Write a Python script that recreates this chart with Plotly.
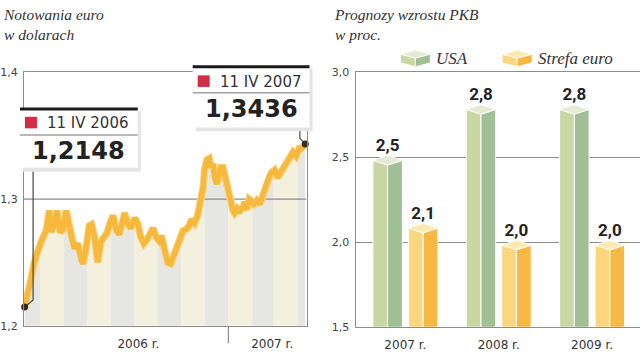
import plotly.graph_objects as go
import numpy as np
import pandas as pd

W, H = 640, 355

# ---------------- data: EUR/USD ----------------
dates = [
    "2006-04-11", "2006-04-15", "2006-04-19", "2006-04-23", "2006-04-27",
    "2006-05-01", "2006-05-05", "2006-05-09", "2006-05-13", "2006-05-16", "2006-05-20", "2006-05-23", "2006-05-27", "2006-05-31",
    "2006-06-04", "2006-06-08", "2006-06-11", "2006-06-15", "2006-06-19", "2006-06-23", "2006-06-26", "2006-06-30",
    "2006-07-04", "2006-07-07", "2006-07-11", "2006-07-15", "2006-07-19", "2006-07-23", "2006-07-27", "2006-07-31",
    "2006-08-04", "2006-08-08", "2006-08-12", "2006-08-15", "2006-08-19", "2006-08-23", "2006-08-27",
    "2006-09-01", "2006-09-05", "2006-09-09", "2006-09-13", "2006-09-17", "2006-09-21", "2006-09-25", "2006-09-29",
    "2006-10-03", "2006-10-06", "2006-10-10", "2006-10-14", "2006-10-18", "2006-10-22", "2006-10-26", "2006-10-30",
    "2006-11-03", "2006-11-07", "2006-11-11", "2006-11-14", "2006-11-18", "2006-11-22", "2006-11-26", "2006-11-29",
    "2006-12-01", "2006-12-04", "2006-12-07", "2006-12-09", "2006-12-12", "2006-12-14", "2006-12-17", "2006-12-20",
    "2006-12-22", "2006-12-25", "2006-12-27", "2006-12-30",
    "2007-01-02", "2007-01-04", "2007-01-07", "2007-01-09", "2007-01-12", "2007-01-15", "2007-01-17", "2007-01-20",
    "2007-01-22", "2007-01-25", "2007-01-28", "2007-01-30",
    "2007-02-03", "2007-02-07", "2007-02-11", "2007-02-15", "2007-02-19", "2007-02-23", "2007-02-26",
    "2007-03-02", "2007-03-06", "2007-03-10", "2007-03-14", "2007-03-18", "2007-03-22", "2007-03-26", "2007-03-30",
    "2007-04-03", "2007-04-06", "2007-04-11",
]
eur_usd = [
    1.2148, 1.224, 1.236, 1.249, 1.258,
    1.264, 1.270, 1.275, 1.291, 1.274, 1.281, 1.291, 1.274, 1.276,
    1.291, 1.277, 1.270, 1.261, 1.265, 1.253, 1.249, 1.262,
    1.279, 1.280, 1.270, 1.250, 1.266, 1.270, 1.273, 1.281,
    1.287, 1.276, 1.272, 1.279, 1.289, 1.281, 1.277,
    1.285, 1.281, 1.270, 1.265, 1.268, 1.273, 1.277, 1.270,
    1.267, 1.271, 1.258, 1.250, 1.249, 1.256, 1.262, 1.270,
    1.275, 1.276, 1.279, 1.284, 1.281, 1.287, 1.298, 1.309,
    1.323, 1.331, 1.332, 1.325, 1.328, 1.317, 1.312, 1.319,
    1.325, 1.325, 1.319, 1.314,
    1.304, 1.296, 1.291, 1.289, 1.292, 1.289, 1.294, 1.291,
    1.298, 1.292, 1.300, 1.299,
    1.296, 1.299, 1.296, 1.304, 1.312, 1.318, 1.321,
    1.323, 1.317, 1.321, 1.325, 1.329, 1.334, 1.337, 1.334,
    1.340, 1.340, 1.3436,
]
month_starts = ["2006-04-01", "2006-05-01", "2006-06-01", "2006-07-01", "2006-08-01",
                "2006-09-01", "2006-10-01", "2006-11-01", "2006-12-01", "2007-01-01",
                "2007-02-01", "2007-03-01", "2007-04-01", "2007-05-01"]
year_tick_dates = ["2006-09-06", "2007-02-27"]
year_tick_labels = ["2006 r.", "2007 r."]
left_yticks = [1.2, 1.3, 1.4]
first_label = ("11 IV 2006", "1,2148")
last_label = ("11 IV 2007", "1,3436")

# ---------------- data: GDP forecasts ----------------
years = ["2007 r.", "2008 r.", "2009 r."]
usa = [2.5, 2.8, 2.8]
euro = [2.1, 2.0, 2.0]
right_yticks = [1.5, 2.0, 2.5, 3.0]

# ---------------- helpers ----------------
def px(x):
    return x / W


def py(y):
    return 1 - y / H


SANS = "DejaVu Sans"
SERIF = "Liberation Serif"
AXIS = "#8c8c8c"
TXT = "#333333"

fig = go.Figure()

# ---- left chart: monthly striped fill under the line ----
t = pd.to_datetime(dates).astype("int64").to_numpy().astype(float)
v = np.array(eur_usd)
ms = pd.to_datetime(month_starts).astype("int64").to_numpy().astype(float)
stripe_cols = ["#e6e6e2", "#f3f1dd"]
for i in range(len(ms) - 1):
    s, e = max(ms[i], t[0]), min(ms[i + 1], t[-1])
    if e <= s:
        continue
    inside = t[(t > s) & (t < e)]
    sx = np.concatenate([[s], inside, [e]])
    sy = np.interp(sx, t, v)
    fig.add_trace(go.Scatter(
        x=pd.to_datetime(sx.astype("int64")), y=sy, mode="lines", fill="tozeroy",
        fillcolor=stripe_cols[i % 2], line=dict(width=0), hoverinfo="skip",
        showlegend=False, xaxis="x", yaxis="y"))

x_range = ["2006-04-10 03:00", "2007-04-12 15:00"]
# 1,3 reference line (above fill, below the curve)
fig.add_trace(go.Scatter(x=x_range, y=[1.3, 1.3], mode="lines",
                         line=dict(color=AXIS, width=1.2), hoverinfo="skip",
                         showlegend=False, xaxis="x", yaxis="y"))
# curve with light halo
fig.add_trace(go.Scatter(x=dates, y=eur_usd, mode="lines",
                         line=dict(color="#fbd58a", width=7.5), hoverinfo="skip",
                         showlegend=False, xaxis="x", yaxis="y"))
fig.add_trace(go.Scatter(x=dates, y=eur_usd, mode="lines",
                         line=dict(color="#f7b93c", width=5.5),
                         showlegend=False, xaxis="x", yaxis="y"))
# connectors
fig.add_trace(go.Scatter(x=[dates[0], "2006-04-22", "2006-04-22"],
                         y=[eur_usd[0], 1.2205, 1.33], mode="lines",
                         line=dict(color="#444444", width=1.2), hoverinfo="skip",
                         showlegend=False, xaxis="x", yaxis="y"))
fig.add_trace(go.Scatter(x=[dates[-1], "2007-04-04", "2007-04-04"],
                         y=[eur_usd[-1], 1.348, 1.36], mode="lines",
                         line=dict(color="#444444", width=1.2), hoverinfo="skip",
                         showlegend=False, xaxis="x", yaxis="y"))
fig.add_trace(go.Scatter(x=[dates[0], dates[-1]], y=[eur_usd[0], eur_usd[-1]],
                         mode="markers", marker=dict(size=7, color="#3b2b1e"),
                         cliponaxis=False, showlegend=False, xaxis="x", yaxis="y"))

# ---- right chart: pseudo-3D bars ----
dy_side, dy_back, dy_front = 0.018, 0.010, 0.046


def faces(centers, vals, off_l, off_m, off_r):
    lx, ly, rx, ry, cx, cy = [], [], [], [], [], []
    for c, val in zip(centers, vals):
        xl, xm, xr = c + off_l, c + off_m, c + off_r
        top = val - dy_side
        front = val - dy_front
        lx += [xl, xm, xm, xl, xl, None]
        ly += [top, front, 1.5 - 0.028, 1.5, top, None]
        rx += [xm, xr, xr, xm, xm, None]
        ry += [front, top, 1.5, 1.5 - 0.028, front, None]
        cx += [xl, xm, xr, xm, xl, None]
        cy += [top, val + dy_back, top, front, top, None]
    return (lx, ly), (rx, ry), (cx, cy)


cats = list(range(len(years)))
series = [
    (usa, -0.348, -0.19, -0.032, ["#c9d7a5", "#a0bf95", "#e4ebd2"]),
    (euro, 0.032, 0.19, 0.348, ["#fcd67c", "#f7b943", "#feeab0"]),
]
for vals, ol, om, orr, cols in series:
    (lx, ly), (rx, ry), (cx, cy) = faces(cats, vals, ol, om, orr)
    for (fx, fy), col in zip([(lx, ly), (rx, ry), (cx, cy)], cols):
        fig.add_trace(go.Scatter(x=fx, y=fy, mode="lines", fill="toself",
                                 fillcolor=col, line=dict(color="white", width=1),
                                 hoverinfo="skip", showlegend=False,
                                 xaxis="x2", yaxis="y2"))
    fig.add_trace(go.Scatter(
        x=[c + om for c in cats], y=[val + dy_back for val in vals], mode="text",
        text=["<b>" + f"{val:.1f}".replace(".", ",") + "</b>" for val in vals],
        textposition="top center", cliponaxis=False,
        textfont=dict(family="Roboto", size=17, color="#222222"),
        showlegend=False, xaxis="x2", yaxis="y2"))

# ---------------- shapes (annotation boxes, legend icons) ----------------
shapes = []


def rect(x0, y0, x1, y1, col):
    shapes.append(dict(type="rect", xref="paper", yref="paper", x0=px(x0), x1=px(x1),
                       y0=py(y1), y1=py(y0), fillcolor=col, line=dict(width=0),
                       layer="above"))


def hline(x0, x1, y, col, w):
    shapes.append(dict(type="line", xref="paper", yref="paper", x0=px(x0), x1=px(x1),
                       y0=py(y), y1=py(y), line=dict(color=col, width=w), layer="above"))


def poly(pts, col):
    path = "M " + " L ".join(f"{px(a):.5f},{py(b):.5f}" for a, b in pts) + " Z"
    shapes.append(dict(type="path", xref="paper", yref="paper", path=path,
                       fillcolor=col, line=dict(color="white", width=0.8), layer="above"))


for (bx0, by0, bx1, by1, div) in [(19, 106, 137, 168, 134), (192, 62, 309, 126, 90)]:
    rect(bx0 + 3, by0 + 3, bx1 + 3, by1 + 4, "#e4e4e4")
    rect(bx0, by0, bx1, by1, "white")
    hline(bx0, bx1, by0 + 1, "#1a1a1a", 3)
    hline(bx0, bx1, div, "#a0a0a0", 1.5)
rect(24, 115, 36, 127, "#d52b46")
rect(197, 72, 209, 84, "#d52b46")

# separator tick between years
shapes.append(dict(type="line", xref="x", yref="paper", x0="2007-01-01", x1="2007-01-01",
                   y0=py(332), y1=py(350), line=dict(color=AXIS, width=1.2)))

# legend cubes
for x0, cols in [(400, ["#c9d7a5", "#a0bf95", "#e4ebd2"]), (502, ["#fcd67c", "#f7b943", "#feeab0"])]:
    poly([(x0, 50), (x0 + 15, 54), (x0 + 15, 63), (x0, 59)], cols[0])
    poly([(x0 + 15, 54), (x0 + 30, 50), (x0 + 30, 59), (x0 + 15, 63)], cols[1])
    poly([(x0, 50), (x0 + 15, 46), (x0 + 30, 50), (x0 + 15, 54)], cols[2])

# ---------------- annotations ----------------
ann = []


def text(x, y, s, size, family, color=TXT, xanchor="left", yanchor="middle",
         italic=False, bold=False):
    if bold:
        s = "<b>" + s + "</b>"
    if italic:
        s = "<i>" + s + "</i>"
    ann.append(dict(xref="paper", yref="paper", x=px(x), y=py(y), text=s, showarrow=False,
                    xanchor=xanchor, yanchor=yanchor, align="left",
                    font=dict(family=family, size=size, color=color)))


text(0, 19, "Notowania euro<br>w dolarach", 15.5, SERIF, italic=True)
text(332, 19, "Prognozy wzrostu PKB<br>w proc.", 15.5, SERIF, italic=True)
text(434, 54, "USA", 17, SERIF, italic=True)
text(536, 54, "Strefa euro", 17, SERIF, italic=True)
text(44, 121.5, first_label[0], 15, SANS)
text(78, 151, first_label[1], 24, SANS, color="#222222", xanchor="center", bold=True)
text(217, 78.5, last_label[0], 15, SANS)
text(251, 107, last_label[1], 24, SANS, color="#222222", xanchor="center", bold=True)

fig.update_layout(
    width=W, height=H, margin=dict(l=0, r=0, t=0, b=0),
    paper_bgcolor="white", plot_bgcolor="rgba(0,0,0,0)",
    separators=", ", showlegend=False,
    shapes=shapes, annotations=ann,
    xaxis=dict(domain=[px(23), px(306)], type="date", range=x_range,
               tickvals=year_tick_dates, ticktext=year_tick_labels, ticks="",
               showline=True, mirror=True, linecolor=AXIS, linewidth=1.2,
               showgrid=False, zeroline=False, ticklabelstandoff=7,
               tickfont=dict(family=SANS, size=12, color=TXT), anchor="y"),
    yaxis=dict(domain=[py(332), py(69)], range=[1.2, 1.4], tickvals=left_yticks,
               tickformat=".1f", showline=True, mirror=True, linecolor=AXIS, linewidth=1.2,
               showgrid=False, zeroline=False, ticks="", ticklabelstandoff=3,
               tickfont=dict(family=SANS, size=11, color="#444444"), anchor="x"),
    xaxis2=dict(domain=[px(356), 1.0], range=[-0.524, 2.513], tickvals=cats, ticktext=years,
                ticks="", showline=True, mirror=True, linecolor=AXIS, linewidth=1.2,
                showgrid=False, zeroline=False, ticklabelstandoff=7,
                tickfont=dict(family=SANS, size=12, color=TXT), anchor="y2"),
    yaxis2=dict(domain=[py(333), py(69)], range=[1.5, 3.0], tickvals=right_yticks,
                tickformat=".1f", showline=True, linecolor=AXIS, linewidth=1.2,
                showgrid=True, gridcolor=AXIS, gridwidth=1.2, zeroline=False, ticks="",
                ticklabelstandoff=4,
                tickfont=dict(family=SANS, size=11, color="#444444"), anchor="x2"),
)

fig.write_html(
    "out.html",
    config={"displayModeBar": False, "responsive": False},
    post_script=(
        "var d=document.documentElement, b=document.body;"
        "[d,b].forEach(function(e){e.style.margin='0';e.style.padding='0';"
        "e.style.overflow='hidden';e.style.height='355px';});"
    ),
)
